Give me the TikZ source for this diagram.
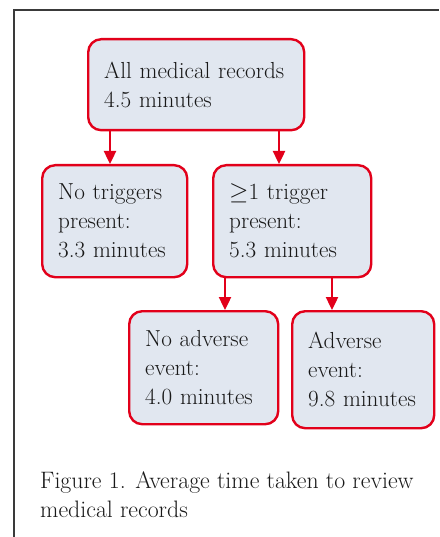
\documentclass[tikz,border=0pt]{standalone}
\usetikzlibrary{arrows.meta}
\definecolor{boxred}{HTML}{E2001A}
\definecolor{boxfill}{HTML}{E1E7F0}
\definecolor{framegray}{HTML}{3A3A3A}
\begin{document}
\begin{tikzpicture}[x=1pt,y=-1pt,
  txt/.style={font=\fontsize{23.2}{29}\selectfont, text=black!90},
  captxt/.style={font=\fontsize{23.8}{29}\selectfont, text=black!90},
  box/.style={txt, draw=boxred, line width=2.4pt, fill=boxfill, rounded corners=13pt,
    inner xsep=16pt, inner ysep=0pt, align=left, anchor=north west},
  arr/.style={draw=boxred, line width=2.4pt, -{Triangle[width=12pt,length=13pt]}},
  frame/.style={draw=framegray, line width=1.5pt}]
\useasboundingbox (0,0) rectangle (439,537);
\draw[frame] (14,537) -- (14,10) -- (439,10);
\node[box, minimum width=216pt, minimum height=91pt, text width=184pt] (A) at (87,38)
  {\mbox{All medical records}\\\mbox{4.5 minutes}};
\node[box, minimum width=145pt, minimum height=112pt, text width=113pt] (B) at (41,164)
  {\mbox{No triggers}\\\mbox{present:}\\\mbox{3.3 minutes}};
\node[box, minimum width=158pt, minimum height=112pt, text width=126pt] (C) at (212,164)
  {\mbox{$\geq$1 trigger}\\\mbox{present:}\\\mbox{5.3 minutes}};
\node[box, minimum width=149pt, minimum height=113pt, text width=117pt] (D) at (128,310)
  {\mbox{No adverse}\\\mbox{event:}\\\mbox{4.0 minutes}};
\node[box, minimum width=142pt, minimum height=117pt, text width=110pt] (E) at (291,310)
  {\mbox{Adverse}\\\mbox{event:}\\\mbox{9.8 minutes}};
\coordinate (xb) at (110,0);
\coordinate (xc) at (279,0);
\coordinate (xd) at (225,0);
\coordinate (xe) at (332,0);
\draw[arr] (A.south -| xb) -- (B.north -| xb);
\draw[arr] (A.south -| xc) -- (C.north -| xc);
\draw[arr] (C.south -| xd) -- (D.north -| xd);
\draw[arr] (C.south -| xe) -- (E.north -| xe);
\node[captxt, align=left, anchor=west, inner sep=0pt] (cap) at (40,494.5)
  {Figure 1. Average time taken to review\\medical records};
\end{tikzpicture}
\end{document}
